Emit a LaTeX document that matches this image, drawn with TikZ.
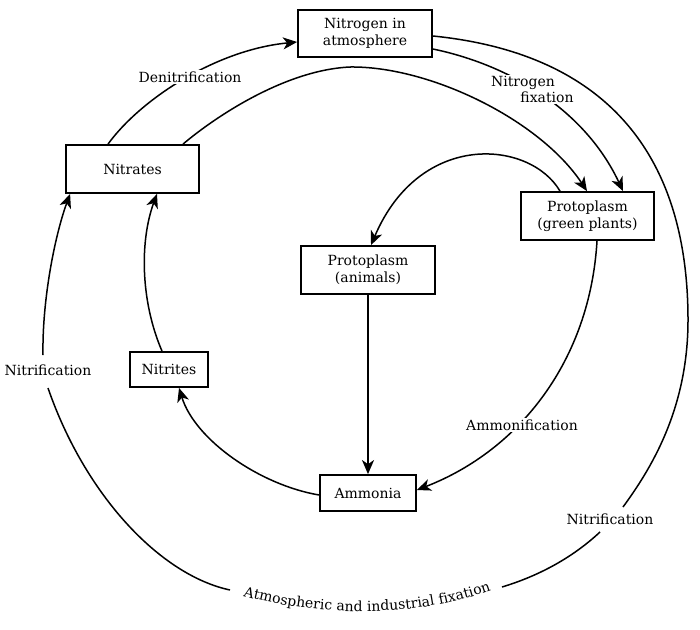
\documentclass[tikz,border=0pt]{standalone}
\usepackage{fontspec}
\setmainfont{DejaVu Serif}
\usetikzlibrary{arrows.meta,decorations.text}
\begin{document}
\begin{tikzpicture}[x=1pt,y=-1pt,
  box/.style={draw, line width=1.8pt, inner sep=0pt, align=center, font=\fontsize{14}{17}\selectfont},
  conn/.style={line width=1.5pt},
  arr/.style={conn, -{Stealth[length=14pt,width=12pt,inset=4pt]}},
  lbl/.style={inner sep=1.5pt, font=\fontsize{14}{17}\selectfont},
  wlbl/.style={lbl, fill=white}]
\useasboundingbox (0,0) rectangle (700,629);
% boxes
\node[box, minimum width=134pt, minimum height=47pt] (N) at (365,33.5) {Nitrogen in\\atmosphere};
\node[box, minimum width=133pt, minimum height=48pt] (nt) at (132.5,169) {Nitrates};
\node[box, minimum width=133pt, minimum height=48pt] (G) at (587.5,216) {Protoplasm\\(green plants)};
\node[box, minimum width=134pt, minimum height=48pt] (A) at (368,270) {Protoplasm\\(animals)};
\node[box, minimum width=78pt, minimum height=35pt] (ni) at (169,369.5) {Nitrites};
\node[box, minimum width=96pt, minimum height=36pt] (am) at (368,493) {Ammonia};
% connectors
\draw[arr] ([xshift=-24.5pt]nt.north) .. controls (140,100) and (215,50) .. ([yshift=-8.5pt]N.west);
\draw[arr] ([xshift=50.5pt]nt.north) .. controls (215,117) and (285,70) .. (350,67) .. controls (430,66) and (540,120) .. ([xshift=-0.5pt]G.north);
\draw[arr] ([yshift=-15.5pt]N.east) .. controls (510,65) and (585,110) .. ([xshift=35.5pt]G.north);
\draw[arr] ([xshift=-27.5pt]G.north) .. controls (530,140) and (420,130) .. ([xshift=3pt]A.north);
\draw[arr] (A.south) -- (am.north);
\draw[arr] ([xshift=9.5pt]G.south) .. controls (590,360) and (520,450) .. ([yshift=3pt]am.east);
\draw[arr] ([yshift=-2pt]am.west) .. controls (260,485) and (195,440) .. ([xshift=10pt]ni.south);
\draw[arr] ([xshift=-7pt]ni.north) .. controls (140,300) and (140,240) .. ([xshift=24.5pt]nt.south);
% outer loop
\draw[conn] ([yshift=-2.5pt]N.east) .. controls (602,53) and (688,150) .. (688,320)
  .. controls (688,410) and (650,470) .. (623,507);
\draw[conn] (600,532) .. controls (570,560) and (535,577) .. (502,587);
\draw[conn] (230,590) .. controls (160,575) and (85,495) .. (48,388);
\draw[arr] (43,355) .. controls (42,300) and (55,235) .. ([xshift=5pt]nt.south west);
% labels
\node[wlbl] (den) at (190,77) {Denitrification};
\node[wlbl] (nf1) at (523,83) {Nitrogen};
\node[wlbl] (nf2) at (547,97) {fixation};
\node[wlbl] (amf) at (522,425) {Ammonification};
\node[lbl] (nr) at (610,519) {Nitrification};
\node[lbl] (nl) at (48,370) {Nitrification};
\path[decorate, decoration={text along path, text align=center,
  text={|\fontsize{14}{17}\selectfont|Atmospheric and industrial fixation}}]
  (236,594) .. controls (320,618) and (420,618) .. (498,588);
\end{tikzpicture}
\end{document}
